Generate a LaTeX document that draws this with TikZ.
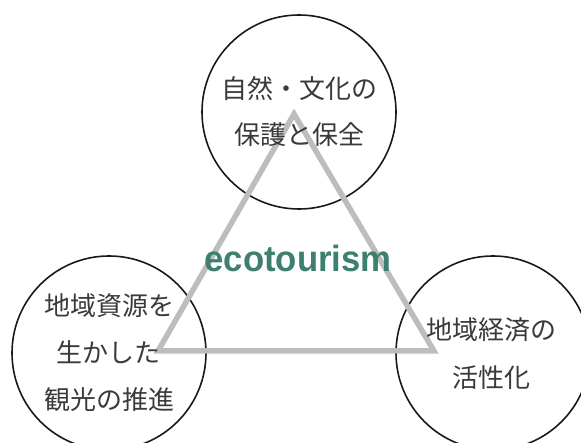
\documentclass[tikz,border=0pt]{standalone}
\usepackage{fontspec}
\newfontfamily\jp{Noto Sans CJK JP}
\newfontfamily\eco{Liberation Sans}
\definecolor{ecoteal}{HTML}{3E7F6F}
\definecolor{trigray}{HTML}{BDBDBD}
\definecolor{ink}{HTML}{3A3A3A}
\begin{document}
\begin{tikzpicture}[x=1pt,y=-1pt,
  bubble/.style={circle,draw=black!90,line width=1.6pt,minimum size=194pt,inner sep=0pt},
  jptext/.style={font=\jp\fontsize{26}{#1}\selectfont,text=ink,align=center},
  tri/.style={draw=trigray,line width=5.5pt,line join=miter}]
\useasboundingbox (0,0) rectangle (581,443);
\node[bubble] (top) at (299,112) {};
\node[bubble] (left) at (109,353) {};
\node[bubble] (right) at (493,353) {};
\coordinate (A) at (294,114);
\coordinate (B) at (158,351);
\coordinate (C) at (434,351);
\draw[tri] (A) -- (B) -- (C) -- cycle;
\node[jptext=46] (toptext) at (top) {自然・文化の\\保護と保全};
\node[jptext=47] (lefttext) at (left) {地域資源を\\生かした\\観光の推進};
\node[jptext=48] (righttext) at (491,354) {地域経済の\\活性化};
\node[font=\eco\bfseries\fontsize{36.5}{40}\selectfont,text=ecoteal,anchor=base] (eco) at (298,272) {\scalebox{0.95}[1]{ecotourism}};
\end{tikzpicture}
\end{document}
